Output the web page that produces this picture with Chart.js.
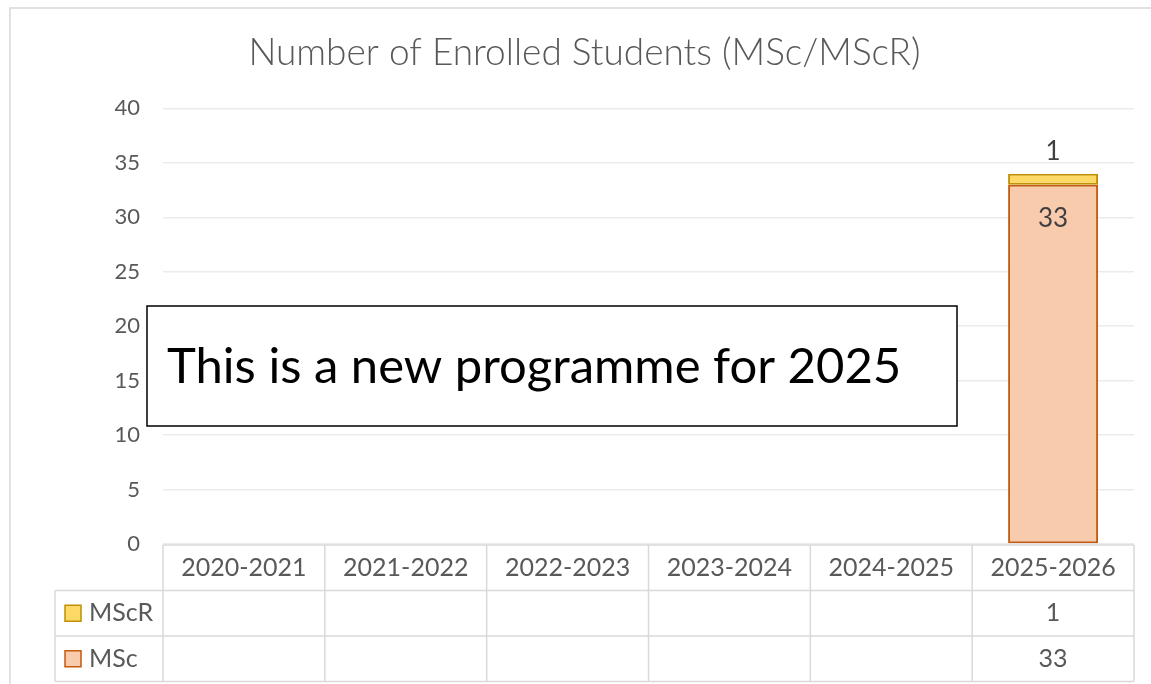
<!DOCTYPE html>
<html>
<head>
<meta charset="utf-8">
<script src="https://cdn.jsdelivr.net/npm/chart.js@4.4.1/dist/chart.umd.min.js"></script>
<style>
  html, body { margin: 0; padding: 0; background: #ffffff; }
  canvas { display: block; }
</style>
</head>
<body>
<canvas id="enrolChart" width="1151" height="684"></canvas>
<script>
// Chart data
const years = ["2020-2021", "2021-2022", "2022-2023", "2023-2024", "2024-2025", "2025-2026"];
const mscValues = [null, null, null, null, null, 33];
const mscrValues = [null, null, null, null, null, 1];
const yTicks = [0, 5, 10, 15, 20, 25, 30, 35, 40];
const seriesNames = ["MSc", "MScR"];
const chartTitle = "Number of Enrolled Students (MSc/MScR)";
const noteText = "This is a new programme for 2025";

const FONT = "Lato, 'Open Sans', sans-serif";
const TEXT_GREY = "#595959";
const LINE_GREY = "#d9d9d9";

const series = [
    { label: seriesNames[0], data: mscValues, fill: "#f8cbad", stroke: "#c55a11" },
    { label: seriesNames[1], data: mscrValues, fill: "#ffd966", stroke: "#bf9000" }
];

// Outer frame of the chart object
const chartFrame = {
    id: "chartFrame",
    beforeDraw(chart) {
        const ctx = chart.ctx;
        ctx.save();
        ctx.fillStyle = "#ffffff";
        ctx.fillRect(0, 0, chart.width, chart.height);
        ctx.strokeStyle = LINE_GREY;
        ctx.lineWidth = 1.5;
        ctx.beginPath();
        ctx.moveTo(10, chart.height);
        ctx.lineTo(10, 8);
        ctx.lineTo(chart.width, 8);
        ctx.stroke();
        ctx.restore();
    }
};

// Value labels on the bars
const barLabels = {
    id: "barLabels",
    afterDatasetsDraw(chart) {
        const ctx = chart.ctx;
        ctx.save();
        ctx.fillStyle = "#404040";
        ctx.font = "26px " + FONT;
        ctx.textAlign = "center";
        ctx.textBaseline = "middle";

        const mscMeta = chart.getDatasetMeta(0);
        const mscrMeta = chart.getDatasetMeta(1);

        mscValues.forEach((v, i) => {
            if (v == null) return;
            const bar = mscMeta.data[i];
            ctx.fillText(String(v), bar.x, bar.y + 34);
        });

        mscrValues.forEach((v, i) => {
            if (v == null) return;
            const bar = mscrMeta.data[i];
            ctx.fillText(String(v), bar.x, bar.y - 22);
        });

        ctx.restore();
    }
};

// Excel style data table under the plot
const dataTable = {
    id: "dataTable",
    afterDraw(chart) {
        const ctx = chart.ctx;
        const area = chart.chartArea;
        const x = chart.scales.x;
        const colW = (area.right - area.left) / years.length;
        const top = area.bottom + 1;
        const rowH = 45.5;
        const legendLeft = 55;
        const rows = [series[1], series[0]];

        ctx.save();
        ctx.strokeStyle = LINE_GREY;
        ctx.lineWidth = 1.5;
        ctx.beginPath();

        // header + body horizontal lines
        ctx.moveTo(area.left, top);
        ctx.lineTo(area.right, top);
        for (let r = 1; r <= rows.length + 1; r++) {
            ctx.moveTo(legendLeft, top + r * rowH);
            ctx.lineTo(area.right, top + r * rowH);
        }

        // vertical lines
        for (let c = 0; c <= years.length; c++) {
            const cx = area.left + c * colW;
            ctx.moveTo(cx, top);
            ctx.lineTo(cx, top + (rows.length + 1) * rowH);
        }
        ctx.moveTo(legendLeft, top + rowH);
        ctx.lineTo(legendLeft, top + (rows.length + 1) * rowH);
        ctx.stroke();

        // header labels
        ctx.fillStyle = TEXT_GREY;
        ctx.font = "25px " + FONT;
        ctx.textAlign = "center";
        ctx.textBaseline = "middle";
        years.forEach((y, i) => {
            ctx.fillText(y, x.getPixelForValue(i), top + rowH / 2);
        });

        // rows
        rows.forEach((s, r) => {
            const cy = top + rowH * (r + 1) + rowH / 2;

            ctx.fillStyle = s.fill;
            ctx.strokeStyle = s.stroke;
            ctx.lineWidth = 1.5;
            ctx.fillRect(65, cy - 8, 16, 16);
            ctx.strokeRect(65, cy - 8, 16, 16);

            ctx.fillStyle = TEXT_GREY;
            ctx.textAlign = "left";
            ctx.fillText(s.label, 89, cy);

            ctx.textAlign = "center";
            s.data.forEach((v, i) => {
                if (v == null) return;
                ctx.fillText(String(v), x.getPixelForValue(i), cy);
            });
        });

        ctx.restore();
    }
};

// Text box annotation
const noteBox = {
    id: "noteBox",
    afterDraw(chart) {
        const ctx = chart.ctx;
        ctx.save();
        ctx.fillStyle = "#ffffff";
        ctx.fillRect(147, 306, 810, 120);
        ctx.strokeStyle = "#000000";
        ctx.lineWidth = 1.5;
        ctx.strokeRect(147, 306, 810, 120);
        ctx.fillStyle = "#000000";
        ctx.font = "49px " + FONT;
        ctx.textAlign = "left";
        ctx.textBaseline = "alphabetic";
        ctx.fillText(noteText, 167, 383);
        ctx.restore();
    }
};

new Chart(
    document.getElementById("enrolChart"),
    {
        type: "bar",

        data: {
            labels: years,
            datasets: series.map(s => ({
                label: s.label,
                data: s.data,
                backgroundColor: s.fill,
                borderColor: s.stroke,
                borderWidth: 2,
                borderSkipped: false,
                barPercentage: 0.556,
                categoryPercentage: 1
            }))
        },

        options: {
            responsive: false,
            animation: false,
            devicePixelRatio: 1,

            layout: {
                padding: { left: 35, right: 17, top: 0, bottom: 140 }
            },

            plugins: {
                legend: { display: false },
                tooltip: { enabled: false },
                title: {
                    display: true,
                    text: chartTitle,
                    color: TEXT_GREY,
                    font: { family: FONT, size: 37, weight: "300", lineHeight: 1.2 },
                    padding: { top: 31, bottom: 33 }
                }
            },

            scales: {
                x: {
                    stacked: true,
                    display: false
                },
                y: {
                    stacked: true,
                    min: yTicks[0],
                    max: yTicks[yTicks.length - 1],
                    afterFit(scale) {
                        scale.width = 128;
                    },
                    afterBuildTicks(scale) {
                        scale.ticks = yTicks.map(v => ({ value: v }));
                    },
                    border: { display: false },
                    grid: {
                        color: "#ebebeb",
                        lineWidth: 1.5,
                        drawTicks: false
                    },
                    ticks: {
                        padding: 23,
                        color: TEXT_GREY,
                        font: { family: FONT, size: 22 }
                    }
                }
            }
        },

        plugins: [chartFrame, barLabels, dataTable, noteBox]
    }
);
</script>
</body>
</html>
